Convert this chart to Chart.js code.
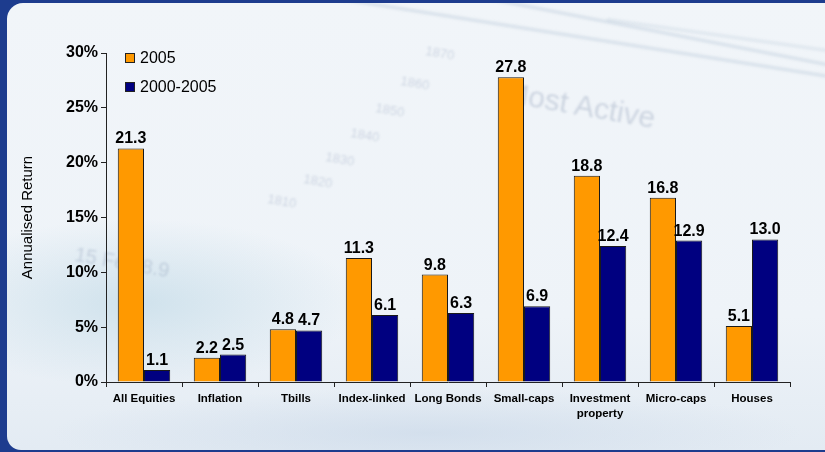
<!DOCTYPE html>
<html>
<head>
<meta charset="utf-8">
<script src="https://cdn.jsdelivr.net/npm/chart.js@4/dist/chart.umd.min.js"></script>
<style>
	html,body{margin:0;padding:0;}
	body{width:825px;height:452px;overflow:hidden;background:#1d3c8e;position:relative;font-family:Arial,"Liberation Sans",sans-serif;}
	#panel{
		position:absolute;left:7px;top:3px;width:818px;height:447px;
		border-radius:16px 0 0 14px;overflow:hidden;
		background:
			radial-gradient(ellipse 320px 120px at 130px 300px, rgba(170,205,222,0.45), rgba(170,205,222,0) 70%),
			radial-gradient(ellipse 500px 60px at 420px 430px, rgba(200,215,232,0.6), rgba(200,215,232,0) 75%),
			linear-gradient(180deg,#f1f5f9 0%,#eef3f8 70%,#e3ebf3 100%);
	}
	.deco{position:absolute;color:rgba(110,130,160,0.28);filter:blur(1.2px);white-space:nowrap;transform-origin:left top;}
	.streak{position:absolute;height:3px;background:rgba(120,145,175,0.22);filter:blur(1.5px);transform-origin:left top;}
	#wrap{position:absolute;left:0;top:0;width:825px;height:452px;}
</style>
</head>
<body>
<div id="panel">
	<div class="streak" style="left:330px;top:-6px;width:520px;transform:rotate(9deg);"></div>
	<div class="streak" style="left:470px;top:-8px;width:400px;transform:rotate(11deg);"></div>
	<div class="streak" style="left:600px;top:15px;width:260px;transform:rotate(8deg);opacity:0.7"></div>
	<div class="deco" style="left:500px;top:72px;font-size:30px;transform:rotate(10deg);">Most Active</div>
	<div class="deco" style="left:420px;top:40px;font-size:13px;transform:rotate(10deg);">1870</div>
	<div class="deco" style="left:395px;top:70px;font-size:13px;transform:rotate(10deg);">1860</div>
	<div class="deco" style="left:370px;top:97px;font-size:13px;transform:rotate(10deg);">1850</div>
	<div class="deco" style="left:345px;top:122px;font-size:13px;transform:rotate(10deg);">1840</div>
	<div class="deco" style="left:320px;top:146px;font-size:13px;transform:rotate(10deg);">1830</div>
	<div class="deco" style="left:298px;top:168px;font-size:13px;transform:rotate(10deg);">1820</div>
	<div class="deco" style="left:262px;top:188px;font-size:13px;transform:rotate(10deg);">1810</div>
	<div class="deco" style="left:70px;top:240px;font-size:20px;transform:rotate(10deg);">15 Feb 8.9</div>
</div>
<div id="wrap"><canvas id="chart" width="825" height="452"></canvas></div>

<script>
// annualised returns by asset class
const categories = ['All Equities','Inflation','Tbills','Index-linked','Long Bonds','Small-caps',['Investment','property'],'Micro-caps','Houses'];
const returns2005 = [21.3, 2.2, 4.8, 11.3, 9.8, 27.8, 18.8, 16.8, 5.1];
const returns2000to2005 = [1.1, 2.5, 4.7, 6.1, 6.3, 6.9, 12.4, 12.9, 13.0];
const seriesNames = ['2005','2000-2005'];
const seriesColours = ['#ff9900','#000080'];
const yTicks = [0,5,10,15,20,25,30];

const FONT = 'Arial, "Liberation Sans", sans-serif';

// number above each bar
const valueLabels = {
	id:'valueLabels',
	afterDatasetsDraw(chart){
		const ctx = chart.ctx;
		ctx.save();
		ctx.font = 'bold 16px ' + FONT;
		ctx.fillStyle = '#000';
		ctx.textAlign = 'center';
		ctx.textBaseline = 'alphabetic';
		chart.data.datasets.forEach((ds,i)=>{
			chart.getDatasetMeta(i).data.forEach((bar,j)=>{
				ctx.fillText(ds.data[j].toFixed(1), bar.x, bar.y - 5);
			});
		});
		ctx.restore();
	}
};

// legend sits inside the plot, top left
const boxLegend = {
	id:'boxLegend',
	afterDraw(chart){
		const ctx = chart.ctx;
		const x = chart.chartArea.left + 19;
		let y = chart.chartArea.top + 5;
		ctx.save();
		ctx.font = '16px ' + FONT;
		ctx.textBaseline = 'middle';
		chart.data.datasets.forEach((ds)=>{
			ctx.fillStyle = ds.backgroundColor;
			ctx.fillRect(x, y - 5, 10, 10);
			ctx.strokeStyle = '#222';
			ctx.lineWidth = 1;
			ctx.strokeRect(x + 0.5, y - 4.5, 9, 9);
			ctx.fillStyle = '#000';
			ctx.fillText(ds.label, x + 15, y + 1);
			y += 29;
		});
		ctx.restore();
	}
};

new Chart(document.getElementById('chart'), {
	type:'bar',
	data:{
		labels:categories,
		datasets:[
			{label:seriesNames[0], data:returns2005, backgroundColor:seriesColours[0]},
			{label:seriesNames[1], data:returns2000to2005, backgroundColor:seriesColours[1]}
		].map(d=>Object.assign(d,{
			borderColor:'#1a1a1a',
			borderWidth:1,
			borderSkipped:'bottom',
			categoryPercentage:0.69,
			barPercentage:1
		}))
	},
	options:{
		responsive:false,
		animation:false,
		layout:{padding:{left:0,right:35,top:53,bottom:0}},
		plugins:{
			legend:{display:false},
			tooltip:{enabled:false}
		},
		scales:{
			x:{
				grid:{offset:true, drawOnChartArea:false, tickLength:5, color:'#222', tickColor:'#222'},
				border:{color:'#222', width:1},
				ticks:{
					color:'#000', padding:4, maxRotation:0, autoSkip:false,
					font:{family:FONT, size:11.5, weight:'bold', lineHeight:1.35}
				},
				afterFit(scale){ scale.height = 70; }
			},
			y:{
				min:0, max:30,
				afterBuildTicks(scale){ scale.ticks = yTicks.map(v=>({value:v})); },
				grid:{drawOnChartArea:false, tickLength:5, color:'#222', tickColor:'#222'},
				border:{color:'#222', width:1},
				ticks:{
					color:'#000', padding:3,
					font:{family:FONT, size:16, weight:'bold'},
					callback:(v)=>v + '%'
				},
				title:{
					display:true, text:'Annualised Return', color:'#000',
					font:{family:FONT, size:15}, padding:{top:19, bottom:0}
				},
				afterFit(scale){ scale.width = 106; }
			}
		}
	},
	plugins:[valueLabels, boxLegend]
});
</script>
</body>
</html>
